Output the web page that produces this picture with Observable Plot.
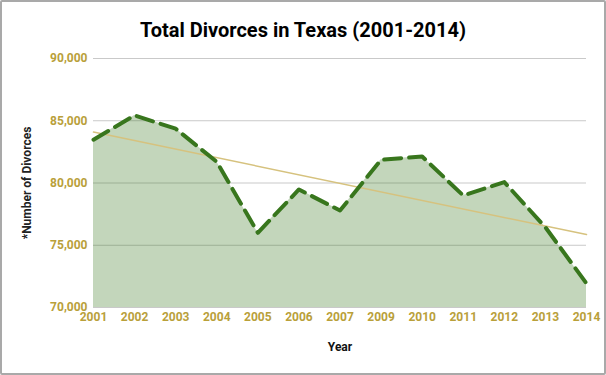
<!DOCTYPE html>
<html>
<head>
<meta charset="utf-8">
<script src="https://cdn.jsdelivr.net/npm/d3@7"></script>
<script src="https://cdn.jsdelivr.net/npm/@observablehq/plot@0.6"></script>
<style>
  html, body { margin: 0; padding: 0; background: #fff; }
  #frame {
    position: relative; width: 606px; height: 375px; box-sizing: border-box;
    border: 2px solid #a9a9a9; border-radius: 2px; background: #fff; overflow: hidden;
  }
  #title {
    position: absolute; left: 0; top: 15px; width: 602px; text-align: center;
    font-family: Roboto, sans-serif; font-weight: bold; font-size: 20px; color: #000;
    line-height: 26px;
  }
  #chart { position: absolute; left: 0; top: 43px; }
</style>
</head>
<body>
<div id="frame">
  <div id="title">Total Divorces in Texas (2001-2014)</div>
  <div id="chart"></div>
</div>
<script>
const years = ["2001","2002","2003","2004","2005","2006","2007","2009","2010","2011","2012","2013","2014"];
const divorces = [83480, 85430, 84360, 81700, 76000, 79480, 77790, 81870, 82130, 78990, 80070, 76440, 71930];
const yTicks = [70000, 75000, 80000, 85000, 90000];

const data = years.map((year, i) => ({i, year, value: divorces[i]}));
const tickColor = "#b9a03a";
const lineColor = "#38761d";

const chart = Plot.plot({
  width: 602,
  height: 328,
  marginLeft: 91,
  marginRight: 18,
  marginTop: 13,
  marginBottom: 66,
  style: {fontFamily: "Roboto, sans-serif", background: "#fff"},
  x: {type: "linear", domain: [0, years.length - 1]},
  y: {domain: [70000, 90000]},
  marks: [
    Plot.gridY(yTicks, {stroke: "#c9c9c9", strokeOpacity: 1}),
    Plot.areaY(data, {x: "i", y1: 70000, y2: "value", fill: lineColor, fillOpacity: 0.3}),
    Plot.linearRegressionY(data, {x: "i", y: "value", stroke: "#d6c27e", strokeWidth: 1.5, ci: 0}),
    Plot.lineY(data, {x: "i", y: "value", stroke: lineColor, strokeWidth: 4, strokeDasharray: "17,8"}),
    Plot.axisY(yTicks, {tickFormat: d3.format(","), tickSize: 0, tickPadding: 6, fill: tickColor,
      fontWeight: "bold", fontSize: 12, label: null}),
    Plot.axisX(d3.range(years.length), {tickFormat: i => years[i], tickSize: 0, tickPadding: 5,
      fill: tickColor, fontWeight: "bold", fontSize: 12, label: null}),
    Plot.text(["*Number of Divorces"], {frameAnchor: "left", rotate: -90, dx: -66, textAnchor: "middle",
      fontWeight: "bold", fontSize: 12, fill: "#222"}),
    Plot.text(["Year"], {frameAnchor: "bottom", dy: 43, textAnchor: "middle",
      fontWeight: "bold", fontSize: 12, fill: "#111"})
  ]
});
document.getElementById("chart").appendChild(chart);
</script>
</body>
</html>
